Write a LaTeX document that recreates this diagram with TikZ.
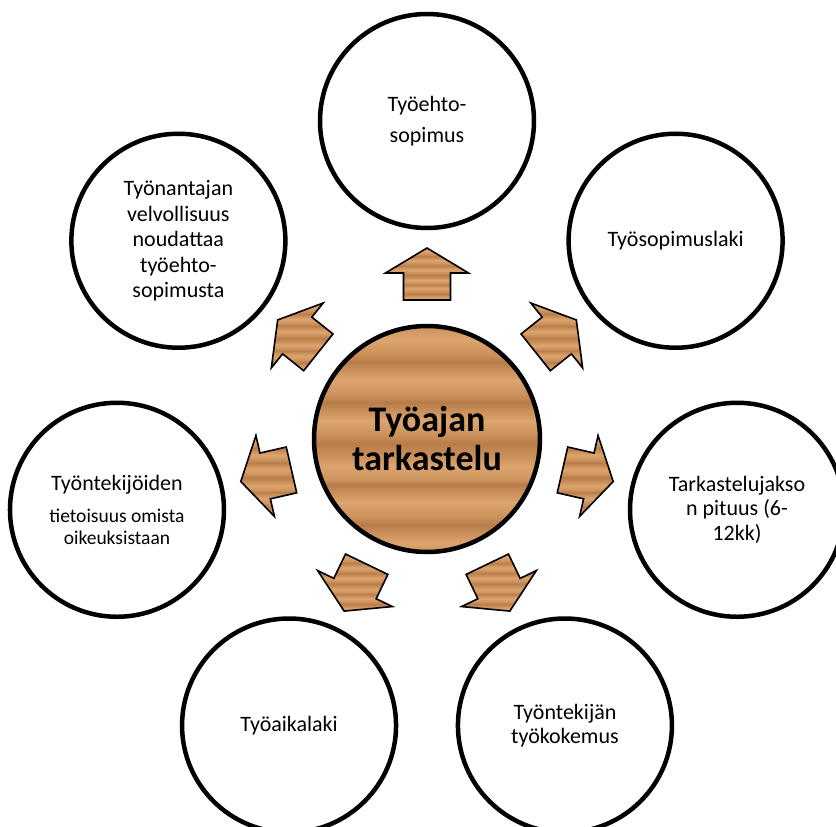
\documentclass[tikz,border=0pt]{standalone}
\usepackage{fontspec}
\setmainfont{Carlito}
\usetikzlibrary{calc}
\definecolor{wood}{RGB}{204,146,92}
\definecolor{wooddark}{RGB}{184,124,74}
\definecolor{woodlight}{RGB}{220,164,110}
\pgfdeclareverticalshading{woodgrain}{100bp}{color(0bp)=(wood); color(25bp)=(wood);
  color(27bp)=(woodlight); color(29bp)=(wood); color(31bp)=(wooddark); color(33bp)=(wood);
  color(36bp)=(woodlight); color(38bp)=(wood); color(40bp)=(wooddark); color(41bp)=(wood);
  color(44bp)=(woodlight); color(46bp)=(wood); color(49bp)=(wooddark); color(51bp)=(wood);
  color(54bp)=(woodlight); color(56bp)=(wood); color(58bp)=(wooddark); color(60bp)=(wood);
  color(63bp)=(woodlight); color(65bp)=(wood); color(67bp)=(wooddark); color(69bp)=(wood);
  color(72bp)=(woodlight); color(75bp)=(wood); color(100bp)=(wood)}
\tikzset{topic/.style={circle,draw=black,line width=4.5pt,fill=white,minimum size=214pt,inner sep=0pt,
    align=center,font=\fontsize{22}{25.5}\selectfont},
  core/.style={circle,draw=black,line width=4.5pt,minimum size=226pt,inner sep=0pt,shading=woodgrain,
    align=center,font=\bfseries\fontsize{36}{39}\selectfont},
  woodarr/.style={shading=woodgrain,draw=black,line width=1.6pt,line join=miter}}
\newcommand{\smalltxt}{\fontsize{19.5}{20.5}\selectfont}

\begin{document}
\begin{tikzpicture}[x=1pt,y=1pt]
\useasboundingbox (-427,-388) rectangle (409,439);
\node[core] (tarkastelu) at (0,0) {Työajan\\tarkastelu};
\node[topic] (ehto) at (90:318) {Työehto-\\[5pt]sopimus};
\node[topic] (sopimuslaki) at (38.57:318) {Työsopimuslaki};
\node[topic] (jakso) at (-12.86:318) {Tarkastelujakso\\[-1pt]n pituus (6-\\[-1pt]12kk)};
\node[topic] (kokemus) at (-64.29:318) {Työntekijän\\[-1pt]työkokemus};
\node[topic] (aikalaki) at (-115.71:318) {Työaikalaki};
\node[topic] (tietoisuus) at (-167.14:318) {Työntekijöiden\\[7pt]\smalltxt tietoisuus omista\\[-4pt]\smalltxt oikeuksistaan};
\node[topic] (velvollisuus) at (141.43:318) {Työnantajan\\velvollisuus\\noudattaa\\työehto-\\sopimusta};
\foreach \a in {90,38.57,-12.86,-64.29,-115.71,-167.14,141.43}
  \draw[woodarr] ($(\a:139)+(\a-90:23.5)$) -- ($(\a:166)+(\a-90:23.5)$) -- ($(\a:166)+(\a-90:41.5)$)
    -- (\a:191) -- ($(\a:166)+(\a+90:41.5)$) -- ($(\a:166)+(\a+90:23.5)$) -- ($(\a:139)+(\a+90:23.5)$) -- cycle;
\end{tikzpicture}
\end{document}
